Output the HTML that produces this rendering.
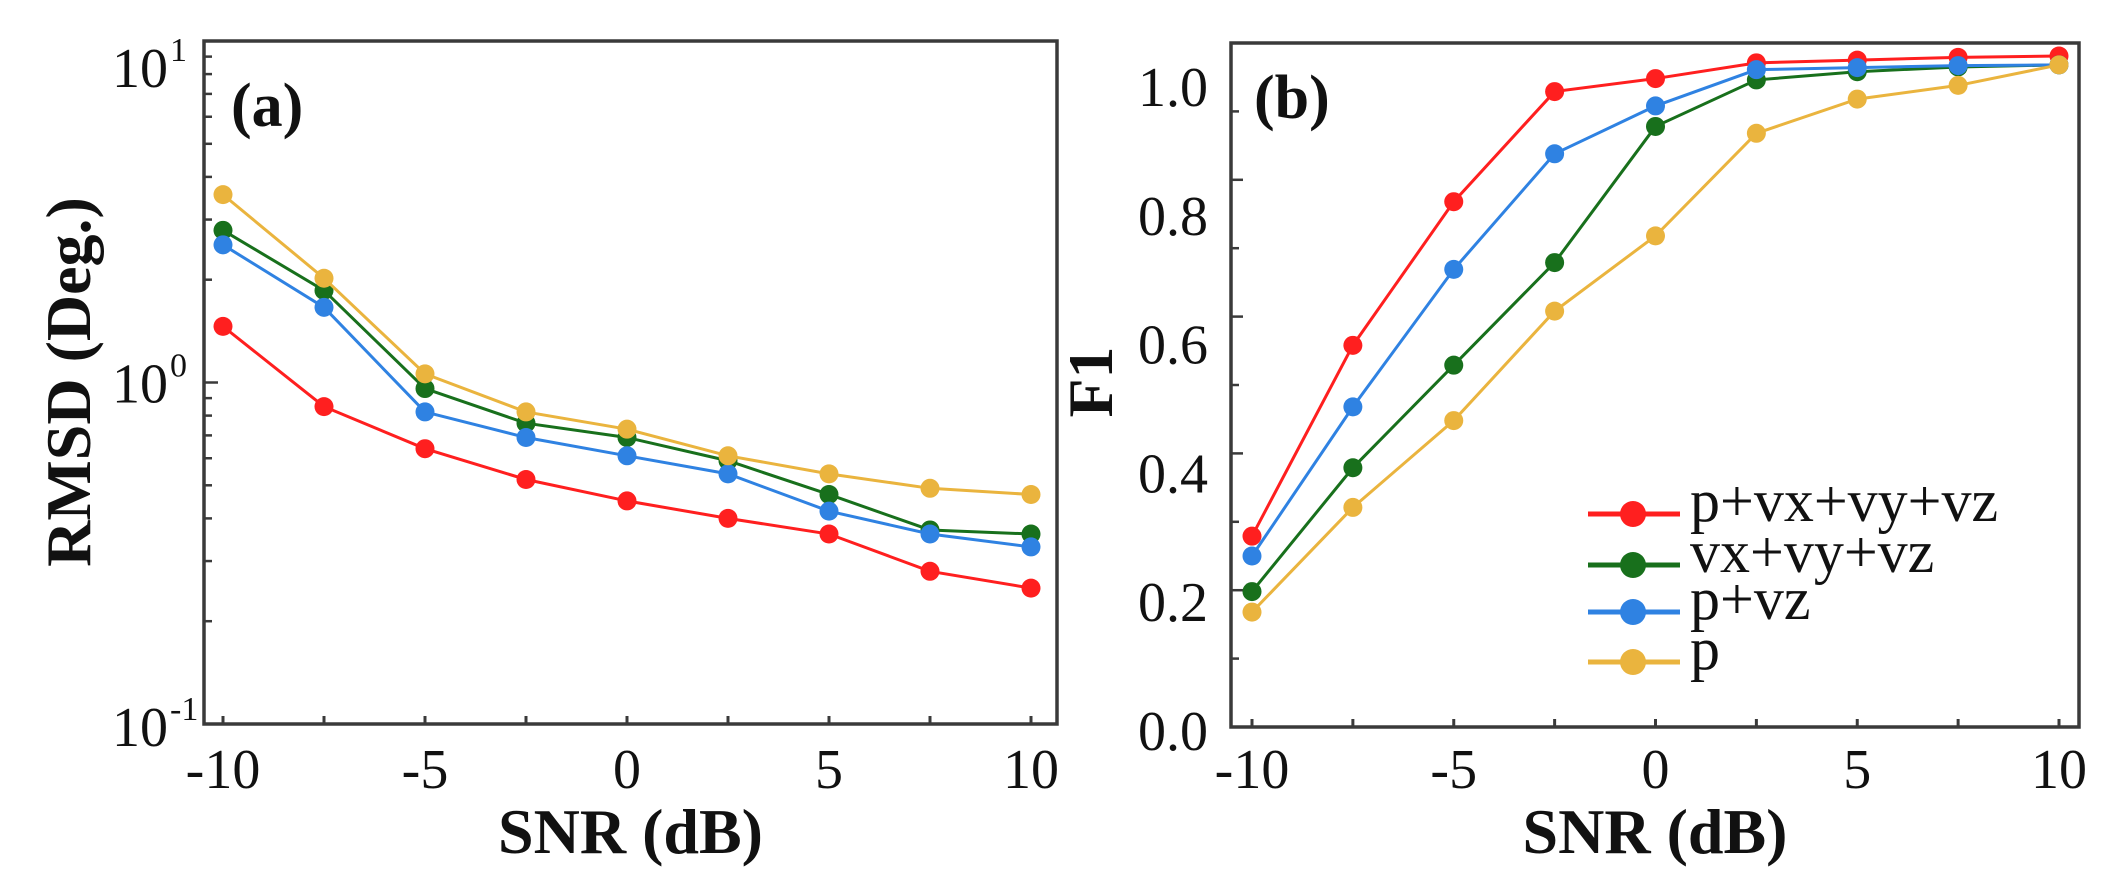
<!DOCTYPE html>
<html><head><meta charset="utf-8"><style>
html,body{margin:0;padding:0;background:#fff;}
svg{display:block;font-family:"Liberation Serif",serif;}
</style></head><body>
<svg id="chart" width="2122" height="890" viewBox="0 0 2122 890" xmlns="http://www.w3.org/2000/svg">
  <g id="pa"></g>
  <g id="pb"></g>
</svg>
<script>
const snr = [-10, -7.5, -5, -2.5, 0, 2.5, 5, 7.5, 10];
const xTickLabels = ["-10", "-5", "0", "5", "10"];
const xTickValues = [-10, -5, 0, 5, 10];
const seriesNames = ["p+vx+vy+vz", "vx+vy+vz", "p+vz", "p"];
const rmsdRed = [1.46, 0.85, 0.64, 0.52, 0.45, 0.40, 0.36, 0.28, 0.25];
const rmsdGreen = [2.79, 1.86, 0.96, 0.76, 0.69, 0.59, 0.47, 0.37, 0.36];
const rmsdBlue = [2.53, 1.66, 0.82, 0.69, 0.61, 0.54, 0.42, 0.36, 0.33];
const rmsdYellow = [3.55, 2.02, 1.06, 0.82, 0.73, 0.61, 0.54, 0.49, 0.47];
const f1Red = [0.279, 0.558, 0.768, 0.929, 0.948, 0.971, 0.975, 0.979, 0.981];
const f1Green = [0.198, 0.379, 0.529, 0.679, 0.878, 0.946, 0.958, 0.965, 0.968];
const f1Blue = [0.250, 0.468, 0.669, 0.838, 0.908, 0.961, 0.964, 0.967, 0.968];
const f1Yellow = [0.168, 0.321, 0.448, 0.608, 0.718, 0.868, 0.918, 0.938, 0.968];
const f1TickLabels = ["0.0", "0.2", "0.4", "0.6", "0.8", "1.0"];
const f1TickValues = [0, 0.2, 0.4, 0.6, 0.8, 1.0];
const colors = ["#ff1f1f", "#18701c", "#2f82e2", "#eab43e"];

const NS = "http://www.w3.org/2000/svg";
function mk(parent, tag, attrs, text) {
  const e = document.createElementNS(NS, tag);
  for (const k in attrs) e.setAttribute(k, attrs[k]);
  if (text !== undefined) e.textContent = text;
  parent.appendChild(e);
  return e;
}

// ---------- panel A ----------
const A = {l: 204, r: 1057, t: 41, b: 724, x0: 223, x1: 1031};
const ax = v => A.x0 + (v + 10) / 20 * (A.x1 - A.x0);
const ay = v => A.b - (Math.log10(v) + 1) / 2 * (A.b - A.t);
const pa = document.getElementById('pa');

function drawPanel(g, P, xs, ys, seriesList, names) {
  const frame = mk(g, 'rect', {x: P.l, y: P.t, width: P.r - P.l, height: P.b - P.t, fill: 'none', stroke: '#3a3a3a', 'stroke-width': 3.5});
  
  
  snr.forEach(v => {
    const t = mk(g, 'line', {x1: xs(v), x2: xs(v), y1: P.b, y2: P.b - 8, stroke: '#3a3a3a', 'stroke-width': 3});
    
    
  });
  xTickValues.forEach((v, i) => {
    const t = mk(g, 'text', {x: xs(v), y: 788, 'font-size': 56, 'text-anchor': 'middle', fill: '#111'}, xTickLabels[i]);
    
    
  });
  const xt = mk(g, 'text', {x: (P.l + P.r) / 2, y: 853, 'font-size': 64, 'font-weight': 'bold', 'text-anchor': 'middle', fill: '#111'}, 'SNR (dB)');
  
  
  seriesList.forEach((vals, si) => {
    const pts = vals.map((v, i) => xs(snr[i]) + ',' + ys(v)).join(' ');
    const pl = mk(g, 'polyline', {points: pts, fill: 'none', stroke: colors[si], 'stroke-width': 3});
    
    
    vals.forEach((v, i) => {
      const c = mk(g, 'circle', {cx: xs(snr[i]), cy: ys(v), r: 9.5, fill: colors[si]});
      
      
    });
  });
}

[0.1, 1].forEach(dec => {
  for (let m = 1; m <= 9; m++) {
    const v = dec * m;
    const len = m === 1 ? 14 : 8;
    const t = mk(pa, 'line', {x1: A.l, x2: A.l + len, y1: ay(v), y2: ay(v), stroke: '#3a3a3a', 'stroke-width': 2.5});
    
    
  }
});
drawPanel(pa, A, ax, ay, [rmsdRed, rmsdGreen, rmsdBlue, rmsdYellow], 'panel-a');
[["1", 1, 26], ["0", 0, 0], ["-1", -1, 2]].forEach(([ex, e, off]) => {
  const yy = ay(Math.pow(10, e)) + off;
  const t = mk(pa, 'text', {x: 168, y: yy + 20, 'font-size': 56, 'text-anchor': 'end', fill: '#111'}, '10');
  
  
  const s = mk(pa, 'text', {x: 170, y: yy - 6, 'font-size': 34, 'text-anchor': 'start', fill: '#111'}, ex);
  
  
});
const yta = mk(pa, 'text', {x: 0, y: 0, 'font-size': 64, 'font-weight': 'bold', 'text-anchor': 'middle', fill: '#111', transform: 'translate(90,382) rotate(-90)'}, 'RMSD (Deg.)');


const la = mk(pa, 'text', {x: 231, y: 126, 'font-size': 62, 'font-weight': 'bold', fill: '#111'}, '(a)');



// ---------- panel B ----------
const B = {l: 1231, r: 2079, t: 43, b: 727, x0: 1252, x1: 2059};
const bx = v => B.x0 + (v + 10) / 20 * (B.x1 - B.x0);
const by = v => B.b - v * (B.b - B.t);
const byLabel = v => 730 - v * 644;
const pb = document.getElementById('pb');
for (let k = 1; k <= 9; k++) {
  const t = mk(pb, 'line', {x1: B.l, x2: B.l + (k % 2 === 0 ? 12 : 8), y1: by(k / 10), y2: by(k / 10), stroke: '#3a3a3a', 'stroke-width': 2.5});
  
  
}
drawPanel(pb, B, bx, by, [f1Red, f1Green, f1Blue, f1Yellow], 'panel-b');
f1TickValues.forEach((v, i) => {
  const t = mk(pb, 'text', {x: 1208, y: byLabel(v) + 20, 'font-size': 56, 'text-anchor': 'end', fill: '#111'}, f1TickLabels[i]);
  
  
});
const ytb = mk(pb, 'text', {x: 0, y: 0, 'font-size': 64, 'font-weight': 'bold', 'text-anchor': 'middle', fill: '#111', transform: 'translate(1112,382) rotate(-90)'}, 'F1');


const lb = mk(pb, 'text', {x: 1254, y: 118, 'font-size': 62, 'font-weight': 'bold', fill: '#111'}, '(b)');



const legY = [514, 565, 612, 662];
const lg = mk(pb, 'g', {});


seriesNames.forEach((n, i) => {
  const e = mk(lg, 'g', {});
  
  
  mk(e, 'line', {x1: 1588, x2: 1680, y1: legY[i], y2: legY[i], stroke: colors[i], 'stroke-width': 5});
  mk(e, 'circle', {cx: 1633, cy: legY[i], r: 13, fill: colors[i]});
  mk(e, 'text', {x: 1690, y: legY[i] + 7, 'font-size': 60, fill: '#111'}, n);
});
</script>
</body></html>
